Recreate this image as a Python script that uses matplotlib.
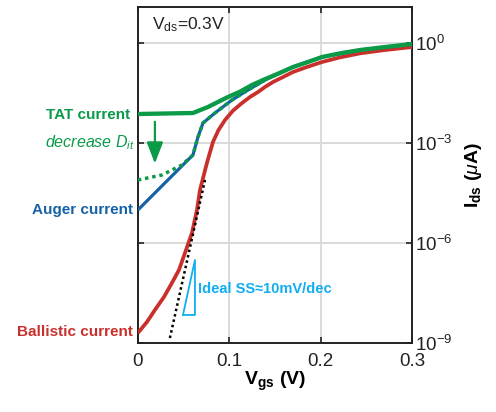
import numpy as np
import matplotlib
matplotlib.use("Agg")
import matplotlib.pyplot as plt
from matplotlib.patches import FancyArrowPatch

plt.rcParams["font.family"] = ["Liberation Sans", "DejaVu Sans"]
plt.rcParams["mathtext.fontset"] = "custom"
plt.rcParams["mathtext.rm"] = "Liberation Sans"
plt.rcParams["mathtext.it"] = "Liberation Sans:italic"
plt.rcParams["mathtext.bf"] = "Liberation Sans:bold"

green = "#0a9a48"
blue = "#1563a6"
red = "#c9302c"
cyan = "#12aef0"

# log10(Ids) values
vgs_tat = [0, 0.0602, 0.0766, 0.0985, 0.1117, 0.1248, 0.1369, 0.1533, 0.1697,
           0.1828, 0.2015, 0.2212, 0.2431, 0.2704, 0.3]
log_tat = [-2.13, -2.10, -1.92, -1.62, -1.46, -1.26, -1.11, -0.92, -0.72,
           -0.60, -0.42, -0.31, -0.21, -0.12, -0.03]

vgs_auger = [0, 0.0328, 0.0602, 0.0657, 0.0712, 0.0843, 0.1029, 0.1204, 0.1391,
             0.1697, 0.2015, 0.2431, 0.3]
log_auger = [-5.01, -4.11, -3.36, -2.82, -2.40, -2.10, -1.71, -1.41, -1.11,
             -0.72, -0.42, -0.21, -0.03]

vgs_lowdit = [0, 0.0263, 0.0482, 0.0602, 0.0657, 0.0712, 0.0843, 0.1029, 0.1204, 0.1391]
log_lowdit = [-4.11, -3.96, -3.66, -3.36, -2.82, -2.40, -2.10, -1.71, -1.41, -1.11]

vgs_ball = [0, 0.0099, 0.0186, 0.0285, 0.0372, 0.0449, 0.0515, 0.0591, 0.0646,
            0.0679, 0.0755, 0.0821, 0.0880, 0.0953, 0.1040, 0.1139, 0.1226,
            0.1314, 0.1390, 0.1478, 0.1588, 0.1697, 0.1828, 0.2015, 0.2212,
            0.2431, 0.2704, 0.3]
log_ball = [-8.70, -8.37, -8.01, -7.62, -7.20, -6.81, -6.30, -5.70, -5.01,
            -4.41, -3.60, -2.97, -2.62, -2.31, -2.03, -1.80, -1.62,
            -1.47, -1.32, -1.17, -1.02, -0.87, -0.74, -0.57, -0.43,
            -0.31, -0.21, -0.12]

vgs_ideal = [0.035, 0.0734]
log_ideal = [-8.85, -4.11]

# slope triangle corners
tri_x = [0.0493, 0.0624, 0.0624, 0.0493]
tri_log = [-8.16, -8.16, -6.51, -8.16]

xticks = [0, 0.1, 0.2, 0.3]
xtick_labels = ["0", "0.1", "0.2", "0.3"]
yticks = [1e-9, 1e-6, 1e-3, 1e0]
ytick_labels = ["10$^{-9}$", "10$^{-6}$", "10$^{-3}$", "10$^{0}$"]

fig = plt.figure(figsize=(4.96, 4.12), dpi=100)
ax = fig.add_axes([0.278, 0.1675, 0.553, 0.8155])

def p(v):
    return 10 ** np.array(v)

kw = dict(solid_joinstyle="round", solid_capstyle="butt")
ax.plot(vgs_ball, p(log_ball), color=red, lw=2.7, zorder=3, **kw)
ax.plot(vgs_ideal, p(log_ideal), color="black", lw=1.8, ls=(0, (1, 1.2)), zorder=4)
ax.plot(vgs_auger, p(log_auger), color=blue, lw=2.3, zorder=4, **kw)
ax.plot(vgs_lowdit, p(log_lowdit), color=green, lw=2.5, ls=(0, (1, 1.1)), zorder=5)
ax.plot(vgs_tat, p(log_tat), color=green, lw=3.1, zorder=6, **kw)
ax.plot(tri_x, p(tri_log), color=cyan, lw=1.3, zorder=4)

ax.set_yscale("log")
ax.set_xlim(0, 0.3)
ax.set_ylim(1e-9, 10 ** 1.08)
ax.set_xticks(xticks)
ax.set_xticklabels(xtick_labels)
ax.set_yticks(yticks)
ax.set_yticklabels(ytick_labels)
ax.minorticks_off()
ax.grid(True, color="#dadada", lw=1.4)
ax.set_axisbelow(True)
for s in ax.spines.values():
    s.set_linewidth(1.4)
    s.set_color("#222222")
ax.tick_params(direction="in", length=4, width=1.2, top=True, right=True,
               left=True, labelleft=False, labelright=True, labelsize=13.5,
               colors="#222222")
ax.tick_params(axis="x", pad=7)
ax.tick_params(axis="y", pad=2)

ax.set_xlabel(r"$\mathbf{V_{gs}}$ (V)", fontsize=14, fontweight="bold", labelpad=0)
ax.yaxis.set_label_position("right")
ax.set_ylabel(r"$\mathbf{I_{ds}}$ ($\mu$A)", fontsize=14, fontweight="bold",
              labelpad=8)

ax.text(0.051, 0.946, r"V$_{\mathrm{ds}}$=0.3V", transform=ax.transAxes,
        fontsize=12.5, va="center", ha="left", color="#222222")

ax.text(-0.0088, 10 ** -2.16, "TAT current", color=green, fontsize=11,
        fontweight="bold", ha="right", va="center", clip_on=False)
ax.text(-0.0033, 10 ** -3.0, r"decrease D$_{it}$", color=green, fontsize=11.5,
        style="italic", ha="right", va="center", clip_on=False)
ax.text(-0.0055, 10 ** -5.01, "Auger current", color=blue, fontsize=11,
        fontweight="bold", ha="right", va="center", clip_on=False)
ax.text(-0.0055, 10 ** -8.67, "Ballistic current", color=red, fontsize=11,
        fontweight="bold", ha="right", va="center", clip_on=False)
ax.text(0.0655, 10 ** -7.38, "Ideal SS≈10mV/dec", color=cyan, fontsize=10.5,
        fontweight="bold", ha="left", va="center")

arr = FancyArrowPatch((0.0186, 10 ** -2.28), (0.0186, 10 ** -3.70),
                      arrowstyle="-|>,head_length=0.65,head_width=0.25",
                      mutation_scale=20, color=green, lw=1.6, zorder=7)
ax.add_patch(arr)

fig.savefig("out.png", dpi=100)
